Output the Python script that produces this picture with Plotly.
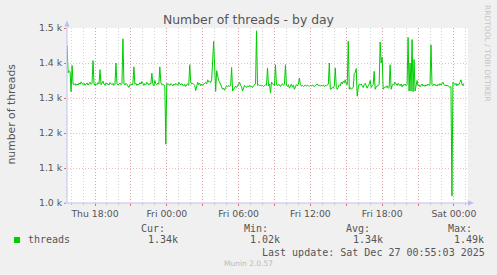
import plotly.graph_objects as go
import pandas as pd

# ---------------- data ----------------
start_time = "2025-12-25 15:40:00"
step_minutes = 5
threads = [
    1450, 1372, 1378, 1375, 1318, 1393, 1340, 1338, 1341, 1336, 1340, 1337, 1343, 1339, 1346, 1341, 1338, 1342, 1336, 1340,
    1343, 1337, 1341, 1345, 1339, 1342, 1407, 1340, 1336, 1341, 1338, 1344, 1340, 1381, 1338, 1342, 1348, 1340, 1336, 1343,
    1339, 1341, 1337, 1344, 1340, 1338, 1342, 1336, 1339, 1400, 1341, 1337, 1340, 1343, 1338, 1341, 1469, 1340, 1337, 1342,
    1339, 1336, 1330, 1338, 1341, 1337, 1340, 1389, 1339, 1342, 1336, 1340, 1338, 1344, 1340, 1347, 1339, 1336, 1341, 1338,
    1345, 1339, 1337, 1342, 1340, 1371, 1340, 1335, 1350, 1341, 1338, 1343, 1339, 1389, 1345, 1338, 1340, 1336, 1335, 1168,
    1342, 1338, 1340, 1336, 1341, 1339, 1335, 1340, 1337, 1342, 1338, 1336, 1345, 1340, 1337, 1341, 1338, 1334, 1339, 1333,
    1338, 1341, 1336, 1395, 1345, 1340, 1342, 1338, 1336, 1321, 1340, 1345, 1338, 1342, 1335, 1340, 1336, 1341, 1343, 1345,
    1340, 1352, 1346, 1348, 1344, 1352, 1400, 1462, 1390, 1319, 1378, 1360, 1350, 1345, 1336, 1330, 1325, 1328, 1322, 1330,
    1335, 1332, 1336, 1333, 1335, 1387, 1320, 1325, 1330, 1334, 1330, 1336, 1340, 1345, 1336, 1332, 1320, 1330, 1336, 1333,
    1330, 1335, 1332, 1336, 1331, 1334, 1330, 1335, 1337, 1340, 1492, 1336, 1338, 1335, 1337, 1334, 1336, 1333, 1335, 1338,
    1336, 1386, 1335, 1340, 1314, 1345, 1340, 1338, 1336, 1395, 1338, 1335, 1340, 1337, 1333, 1338, 1341, 1336, 1339, 1395,
    1336, 1333, 1338, 1328, 1335, 1340, 1331, 1336, 1325, 1333, 1338, 1335, 1340, 1357, 1338, 1334, 1336, 1333, 1335, 1337,
    1334, 1336, 1335, 1333, 1336, 1334, 1337, 1335, 1333, 1336, 1338, 1340, 1335, 1337, 1334, 1336, 1335, 1337, 1333, 1336,
    1334, 1336, 1340, 1400, 1325, 1326, 1330, 1328, 1335, 1386, 1330, 1325, 1330, 1338, 1335, 1345, 1340, 1348, 1344, 1352,
    1340, 1338, 1462, 1325, 1330, 1325, 1328, 1330, 1370, 1372, 1384, 1305, 1330, 1340, 1338, 1340, 1335, 1330, 1338, 1342,
    1335, 1328, 1335, 1340, 1350, 1330, 1335, 1338, 1376, 1325, 1332, 1335, 1336, 1338, 1460, 1400, 1417, 1325, 1330, 1332,
    1330, 1335, 1328, 1330, 1395, 1325, 1335, 1340, 1338, 1345, 1340, 1336, 1342, 1338, 1335, 1340, 1332, 1338, 1336, 1340,
    1335, 1338, 1473, 1320, 1400, 1320, 1467, 1318, 1410, 1320, 1340, 1350, 1335, 1338, 1332, 1336, 1340, 1334, 1337, 1333,
    1338, 1335, 1340, 1336, 1338, 1452, 1338, 1335, 1340, 1336, 1338, 1334, 1339, 1336, 1341, 1337, 1340, 1345, 1338, 1335,
    1337, 1334, 1336, 1332, 1330, 1333, 1020, 1345, 1340, 1338, 1342, 1335, 1340, 1338, 1345, 1352, 1340, 1335, 1342,
]
y_tick_values = [1000, 1100, 1200, 1300, 1400, 1500]
y_tick_labels = ["1.0 k", "1.1 k", "1.2 k", "1.3 k", "1.4 k", "1.5 k"]
x_tick_values = ["2025-12-25 18:00", "2025-12-25 21:00", "2025-12-26 00:00", "2025-12-26 03:00",
                 "2025-12-26 06:00", "2025-12-26 09:00", "2025-12-26 12:00", "2025-12-26 15:00",
                 "2025-12-26 18:00", "2025-12-26 21:00", "2025-12-27 00:00"]
x_tick_labels = ["Thu 18:00", "", "Fri 00:00", "", "Fri 06:00", "", "Fri 12:00", "", "Fri 18:00", "", "Sat 00:00"]
x_range = ["2025-12-25 15:39:30", "2025-12-27 01:10:30"]
title_text = "Number of threads - by day"
y_title = "number of threads"
series_name = "threads"
last_update = "Last update: Sat Dec 27 00:55:03 2025"
vertical_note = "RRDTOOL / TOBI OETIKER"
footer = "Munin 2.0.57"

times = pd.date_range(start=start_time, periods=len(threads), freq=f"{step_minutes}min")

# ---------------- layout helpers ----------------
W, H = 497, 275
L, R, T, B = 67, 29, 28, 72
PW, PH = W - L - R, H - T - B


def xp(px):
    return (px - L) / PW


def yp(py):
    return (H - B - py) / PH


TXT = "#555555"
GREEN = "#00CC00"
AXIS = "#BCC0EE"
MONO = "DejaVu Sans Mono"
SANS = "DejaVu Sans"
MGRID = "rgba(230,90,90,0.42)"
GRID = "rgba(150,150,150,0.42)"

fig = go.Figure()
fig.add_trace(go.Scatter(x=times, y=threads, mode="lines", name=series_name,
                         line=dict(color=GREEN, width=1), hoverinfo="skip"))


def fmt(v):
    return f"{v / 1000:.2f}k"


cur_v = threads[-1]
min_v = min(threads)
max_v = max(threads)
avg_v = sum(threads) / len(threads)

annotations = []


def ann(text, px, py, font, size, color=TXT, xanchor="left", angle=0):
    annotations.append(dict(text=text, x=xp(px), y=yp(py), xref="paper", yref="paper",
                            xanchor=xanchor, yanchor="middle", showarrow=False,
                            textangle=angle, borderpad=0,
                            font=dict(family=font, size=size, color=color)))


ann(title_text, 248.3, 19.5, SANS, 12.4, xanchor="center")
ann(y_title, 10.5, 114, SANS, 10.8, xanchor="center", angle=-90)
ann(vertical_note, 487.5, 53.5, SANS, 7.5, color="#C4C4C4", xanchor="center", angle=90)

ann(series_name, 26.5, 239.5, MONO, 10)
ann("Cur:", 140, 228.5, MONO, 10)
ann(fmt(cur_v), 146.5, 239.5, MONO, 10)
ann("Min:", 242.5, 228.5, MONO, 10)
ann(fmt(min_v), 249, 239.5, MONO, 10)
ann("Avg:", 345, 228.5, MONO, 10)
ann(fmt(avg_v), 351.5, 239.5, MONO, 10)
ann("Max:", 446.5, 228.5, MONO, 10)
ann(fmt(max_v), 453, 239.5, MONO, 10)
ann(last_update, 261, 252, MONO, 10)
ann(footer, 248, 263.5, SANS, 7.5, color="#BBBBBB", xanchor="center")

shapes = [
    # legend colour box
    dict(type="rect", xref="paper", yref="paper", x0=xp(14), x1=xp(20), y0=yp(243), y1=yp(237),
         fillcolor=GREEN, line=dict(width=0)),
    # axis extensions and arrows
    dict(type="line", xref="paper", yref="paper", x0=xp(67), x1=xp(67), y0=yp(203), y1=yp(24),
         line=dict(color=AXIS, width=1)),
    dict(type="line", xref="paper", yref="paper", x0=xp(64), x1=xp(470), y0=yp(203), y1=yp(203),
         line=dict(color=AXIS, width=1)),
    dict(type="path", xref="paper", yref="paper",
         path=f"M {xp(64.3)},{yp(26.5)} L {xp(67)},{yp(20.5)} L {xp(69.7)},{yp(26.5)} Z",
         fillcolor=AXIS, line=dict(width=0)),
    dict(type="path", xref="paper", yref="paper",
         path=f"M {xp(468)},{yp(200.3)} L {xp(474)},{yp(203)} L {xp(468)},{yp(205.7)} Z",
         fillcolor=AXIS, line=dict(width=0)),
]

fig.update_layout(
    width=W, height=H,
    margin=dict(l=L, r=R, t=T, b=B, pad=0),
    paper_bgcolor="#F0F0F0", plot_bgcolor="#FFFFFF",
    showlegend=False,
    annotations=annotations,
    shapes=shapes,
    xaxis=dict(
        type="date", range=x_range,
        tickmode="array", tickvals=x_tick_values, ticktext=x_tick_labels,
        showgrid=True, gridcolor=MGRID, griddash="1px,2px", gridwidth=1,
        ticks="outside", ticklen=2, tickcolor="rgba(230,80,80,0.8)",
        tickfont=dict(family=SANS, size=9.3, color=TXT),
        showline=False, zeroline=False,
        minor=dict(dtick=3600000, tick0="2025-12-25 00:00", showgrid=True,
                   gridcolor=GRID, griddash="1px,2px", gridwidth=1,
                   ticks="outside", ticklen=1, tickcolor="rgba(150,150,150,0.6)"),
    ),
    yaxis=dict(
        range=[1000, 1500],
        tickmode="array", tickvals=y_tick_values, ticktext=y_tick_labels,
        showgrid=True, gridcolor=MGRID, griddash="1px,2px", gridwidth=1,
        ticks="outside", ticklen=2, tickcolor="rgba(230,80,80,0.8)",
        tickfont=dict(family=SANS, size=9.3, color=TXT),
        showline=False, zeroline=False,
    ),
)

fig.write_html("out.html")
